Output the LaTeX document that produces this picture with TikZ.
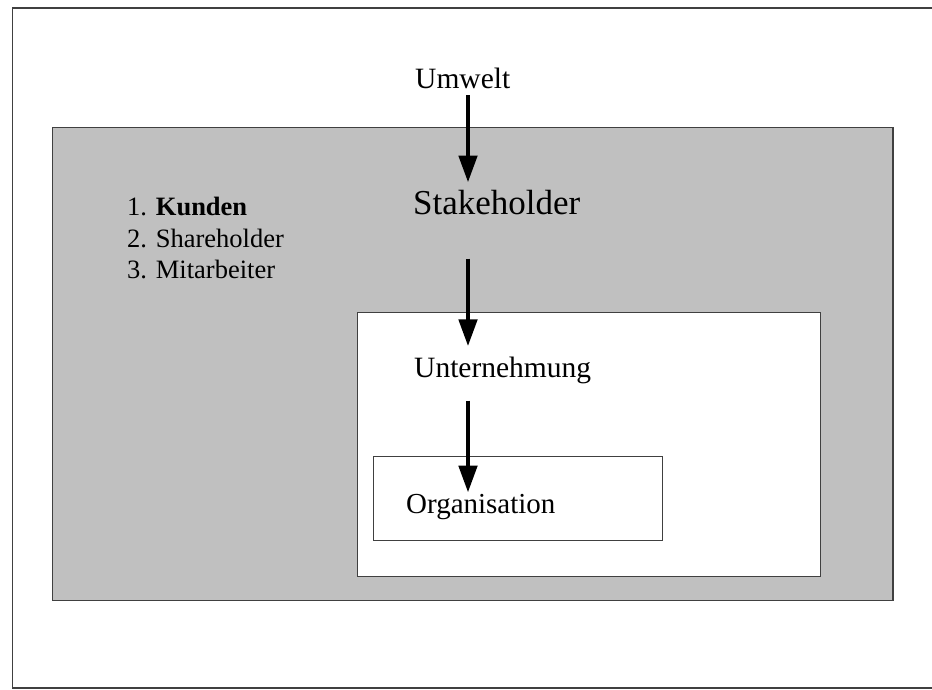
\documentclass[tikz,border=0pt]{standalone}
\usepackage{fontspec}
\setmainfont{Liberation Serif}
\usetikzlibrary{arrows.meta}
\definecolor{panelgray}{HTML}{C0C0C0}
\definecolor{edgegray}{HTML}{404040}
\begin{document}
\begin{tikzpicture}[x=1pt,y=-1pt,
  label/.style={inner sep=0pt,anchor=base west},
  flow/.style={line width=4.8pt,-{Triangle[length=27pt,width=18pt]}},
  frame/.style={draw=edgegray,line width=1pt}]
\useasboundingbox (0,0) rectangle (932,690);
% outer frame (open to the right)
\draw[edgegray,line width=1.6pt] (932,8) -- (12.5,8) -- (12.5,688) -- (932,688);
% environment panel
\draw[frame,fill=panelgray] (52,128) rectangle (893,600);
\draw[edgegray,line width=1.5pt] (892.5,128) -- (892.5,600);
% company and organisation boxes
\draw[frame,fill=white] (357,312) rectangle (820,576);
\draw[frame,fill=white] (373,456) rectangle (662,540);
% labels
\node[label,font=\fontsize{29.5}{32}\selectfont] (umwelt) at (415,89) {Umwelt};
\node[label,font=\fontsize{35}{38}\selectfont] (stake) at (413,214) {Stakeholder};
\node[label,font=\fontsize{29.5}{32}\selectfont] (unter) at (414,377) {Unternehmung};
\node[label,font=\fontsize{29}{32}\selectfont] (org) at (406,513) {Organisation};
\node[label,font=\fontsize{26.5}{30}\selectfont] (l1) at (127,215) {1. \textbf{Kunden}};
\node[label,font=\fontsize{26.5}{30}\selectfont] (l2) at (127,247) {2. Shareholder};
\node[label,font=\fontsize{26.5}{30}\selectfont] (l3) at (127,278) {3. Mitarbeiter};
% arrows along a common vertical axis
\coordinate (ax) at (468,0);
\draw[flow] ([yshift=-6pt]umwelt.south -| ax) -- ([yshift=7pt]stake.north -| ax);
\draw[flow] ([yshift=-44pt]stake.south -| ax) -- ([yshift=10pt]unter.north -| ax);
\draw[flow] ([yshift=-17pt]unter.south -| ax) -- ([yshift=1pt]org.north -| ax);
\end{tikzpicture}
\end{document}
